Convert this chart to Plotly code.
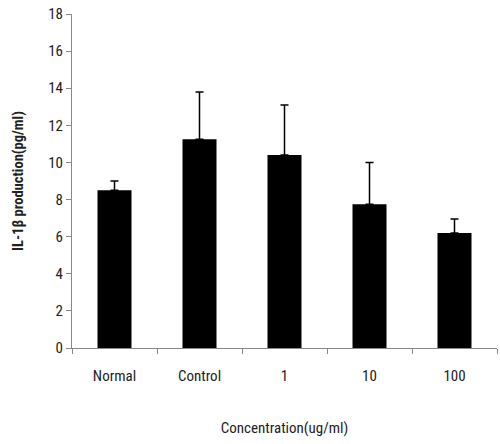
import plotly.graph_objects as go

categories = ["Normal", "Control", "1", "10", "100"]
values = [8.5, 11.25, 10.4, 7.75, 6.2]
errors = [0.5, 2.55, 2.7, 2.25, 0.75]
y_ticks = [0, 2, 4, 6, 8, 10, 12, 14, 16, 18]

font_fam = "Liberation Sans Narrow, Roboto Condensed, Arial Narrow, Liberation Sans, sans-serif"

fig = go.Figure(go.Bar(
    x=categories, y=values, width=0.4,
    marker=dict(color="black", line=dict(width=0)),
    error_y=dict(type="data", array=errors, arrayminus=[0]*len(errors), symmetric=False,
                 color="black", thickness=1.5, width=4),
))

fig.update_layout(
    width=500, height=444,
    margin=dict(l=72, r=3, t=14, b=96),
    plot_bgcolor="white", paper_bgcolor="white",
    showlegend=False,
    font=dict(family=font_fam, size=15, color="#222"),
    xaxis=dict(type="category", tickson="boundaries", ticks="outside", ticklen=5,
               tickcolor="#888", showline=True, linecolor="#888", linewidth=1,
               showgrid=False, tickfont=dict(size=15), ticklabelstandoff=14,
               title=dict(text="Concentration(ug/ml)", font=dict(size=15), standoff=38)),
    yaxis=dict(range=[0, 18], tickvals=y_ticks, ticks="outside", ticklen=5,
               tickcolor="#888", showline=True, linecolor="#888", linewidth=1,
               showgrid=False, zeroline=False, tickfont=dict(size=15),
               title=dict(text="<b>IL-1β production(pg/ml)</b>", font=dict(size=14.5), standoff=21)),
)

fig.write_html("out.html", config={"displayModeBar": False},
               post_script="document.body.style.margin='0';")
